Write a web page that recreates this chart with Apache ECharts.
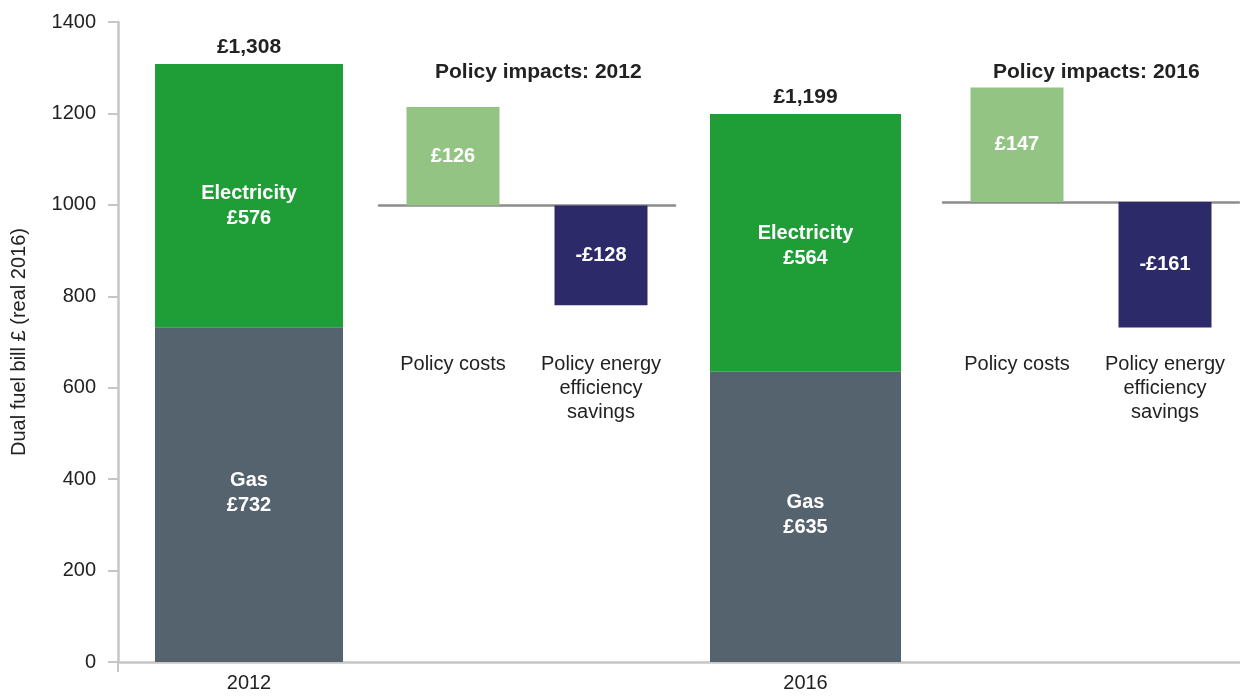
<!DOCTYPE html>
<html>
<head>
<meta charset="utf-8">
<script src="https://cdn.jsdelivr.net/npm/echarts@6/dist/echarts.min.js"></script>
<style>
  html, body { margin: 0; padding: 0; background: #ffffff; }
  #chart { width: 1240px; height: 696px; }
</style>
</head>
<body>
<div id="chart"></div>
<script>
// ---- data ----
const years = ['2012', '2016'];
const gas = [732, 635];
const electricity = [576, 564];
const policyCategories = ['Policy costs', 'Policy energy\nefficiency\nsavings'];
const policyImpacts2012 = [126, -128];
const policyImpacts2016 = [147, -161];
const policyTitles = ['Policy impacts: 2012', 'Policy impacts: 2016'];
const yAxisName = 'Dual fuel bill £ (real 2016)';

// ---- styles ----
const FONT = '"Liberation Sans", Arial, sans-serif';
const TEXT = '#222222';
const C_GAS = '#55636f';
const C_ELEC = '#1f9e38';
const C_COST = '#93c484';
const C_SAVE = '#2c2a69';
const policyColors = [C_COST, C_SAVE];

const totals = gas.map((g, i) => g + electricity[i]);
const money = v => (v < 0 ? '-£' : '£') + Math.abs(v).toLocaleString('en-GB');

const chart = echarts.init(document.getElementById('chart'), null, { renderer: 'canvas' });

const TOP = 22, BOTTOM = 34;
const gbase = { top: TOP, bottom: BOTTOM, containLabel: false, outerBoundsMode: 'none' };
const grids = [
  Object.assign({ left: 118, right: -4 }, gbase),      // frame
  Object.assign({ left: 118, width: 262 }, gbase),     // 2012 bill
  Object.assign({ left: 379, width: 296 }, gbase),     // 2012 policy
  Object.assign({ left: 675, width: 261 }, gbase),     // 2016 bill
  Object.assign({ left: 943, width: 296 }, gbase)      // 2016 policy
];

const hiddenLine = { show: false };
const mainX = (gi, name) => ({
  type: 'category', gridIndex: gi, data: [name],
  axisLine: hiddenLine, axisTick: { show: false },
  axisLabel: { color: TEXT, fontSize: 20, fontFamily: FONT, margin: 11 }
});
const policyX = (gi) => ({
  type: 'category', gridIndex: gi, data: policyCategories,
  axisLine: { show: true, onZero: true, lineStyle: { color: '#8c8c8c', width: 2.5 } },
  axisTick: { show: false },
  axisLabel: { color: TEXT, fontSize: 20, fontFamily: FONT, margin: -310, lineHeight: 24, interval: 0, verticalAlign: 'top' }
});

const option = {
  animation: false,
  backgroundColor: '#ffffff',
  textStyle: { fontFamily: FONT },
  title: [
    { text: policyTitles[0], left: 430, top: 57, textStyle: { fontSize: 21, fontWeight: 'bold', color: TEXT, fontFamily: FONT } },
    { text: policyTitles[1], left: 988, top: 57, textStyle: { fontSize: 21, fontWeight: 'bold', color: TEXT, fontFamily: FONT } }
  ],
  grid: grids,
  xAxis: [
    {
      type: 'category', gridIndex: 0, data: [''],
      axisLine: { show: true, lineStyle: { color: '#c6c6c6', width: 2.5 } },
      axisTick: { show: true, length: 10, lineStyle: { color: '#c6c6c6', width: 2 } },
      axisLabel: { show: false }
    },
    mainX(1, years[0]),
    policyX(2),
    mainX(3, years[1]),
    policyX(4)
  ],
  yAxis: [
    {
      type: 'value', gridIndex: 0, min: 0, max: 1400, interval: 200,
      name: yAxisName, nameLocation: 'middle', nameGap: 89, nameRotate: 90,
      nameTextStyle: { color: TEXT, fontSize: 20, fontFamily: FONT },
      axisLine: { show: true, lineStyle: { color: '#c6c6c6', width: 2.5 } },
      axisTick: { show: true, length: 10, lineStyle: { color: '#c6c6c6', width: 2 } },
      axisLabel: { color: TEXT, fontSize: 20, fontFamily: FONT, margin: 22, formatter: v => String(v) },
      splitLine: { show: false }
    },
    { type: 'value', gridIndex: 1, min: 0, max: 1400, show: false, splitLine: { show: false } },
    { type: 'value', gridIndex: 2, min: -585, max: 235, show: false, splitLine: { show: false } },
    { type: 'value', gridIndex: 3, min: 0, max: 1400, show: false, splitLine: { show: false } },
    { type: 'value', gridIndex: 4, min: -590, max: 231, show: false, splitLine: { show: false } }
  ],
  series: []
};

const innerLabel = (name, dy) => ({
  show: true, position: 'inside', color: '#ffffff', fontSize: 20, fontWeight: 'bold',
  fontFamily: FONT, lineHeight: 25, align: 'center', offset: [0, dy],
  formatter: p => name + '\n' + money(p.value)
});

years.forEach((y, i) => {
  const axis = i === 0 ? 1 : 3;
  const bw = i === 0 ? 188 : 191;
  option.series.push({
    type: 'bar', name: 'Gas ' + y, xAxisIndex: axis, yAxisIndex: axis, stack: 'bill' + y,
    barWidth: bw, data: [gas[i]], itemStyle: { color: C_GAS }, label: innerLabel('Gas', -2)
  });
  option.series.push({
    type: 'bar', name: 'Electricity ' + y, xAxisIndex: axis, yAxisIndex: axis, stack: 'bill' + y,
    barWidth: bw, data: [electricity[i]], itemStyle: { color: C_ELEC },
    label: innerLabel('Electricity', i === 0 ? 10 : 3)
  });
  option.series.push({
    type: 'bar', name: 'Total ' + y, xAxisIndex: axis, yAxisIndex: axis, stack: 'bill' + y,
    barWidth: bw, data: [0], itemStyle: { color: 'transparent' },
    label: {
      show: true, position: 'top', distance: 6, color: TEXT, fontSize: 21, fontWeight: 'bold',
      fontFamily: FONT, formatter: () => money(totals[i])
    }
  });
});

[policyImpacts2012, policyImpacts2016].forEach((vals, i) => {
  const axis = i === 0 ? 2 : 4;
  option.series.push({
    type: 'bar', name: policyTitles[i], xAxisIndex: axis, yAxisIndex: axis,
    barWidth: 93, data: vals,
    itemStyle: { color: p => policyColors[p.dataIndex] },
    label: {
      show: true, position: 'inside', color: '#ffffff', fontSize: 20, fontWeight: 'bold',
      fontFamily: FONT, formatter: p => money(p.value)
    }
  });
});

chart.setOption(option);
</script>
</body>
</html>
